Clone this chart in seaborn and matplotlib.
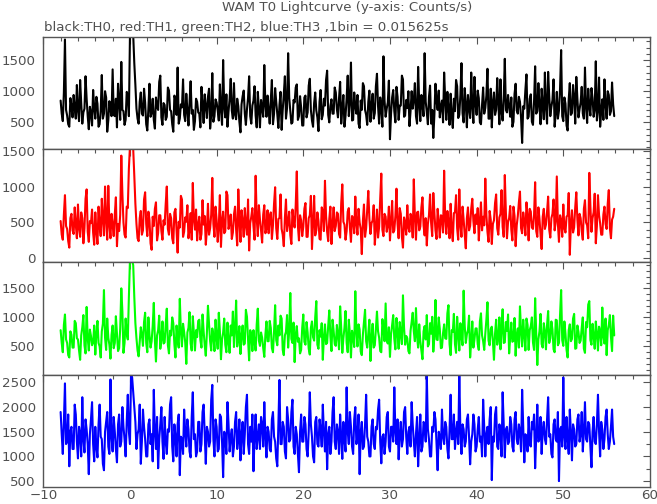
import numpy as np
import matplotlib
matplotlib.use("Agg")
import matplotlib.pyplot as plt
from matplotlib.ticker import MultipleLocator
import seaborn as sns

# ---------------- data (counts/s, coarse 0.125 s samples) -------------
t_start = -8.0
sample_dt = 0.125

th0 = [850, 640, 520, 980, 1830, 700, 610, 470, 430, 890, 760, 580, 940, 720, 560, 1100,
       690, 520, 1180, 810, 480, 660, 720, 1240, 880, 600, 390, 750, 650, 450, 1020, 730,
       560, 910, 800, 430, 470, 690, 1260, 560, 640, 1000, 900, 350, 530, 840, 710, 600,
       1350, 620, 600, 880, 420, 1120, 830, 540, 1470, 700, 680, 460, 540, 990, 940, 600,
       1900, 1870, 1880, 1900, 1450, 1100, 720, 560, 480, 830, 980, 640, 610, 1040, 820, 470,
       370, 720, 1120, 590, 650, 880, 540, 400, 900, 760, 700, 1150, 1250, 580, 460, 810,
       780, 540, 590, 1060, 1010, 700, 680, 470, 350, 930, 870, 620, 1380, 480, 560, 790,
       740, 1190, 620, 520, 960, 700, 450, 820, 1160, 640, 700, 380, 520, 880, 830, 660,
       640, 420, 1070, 800, 490, 950, 760, 570, 910, 1040, 400, 620, 1290, 510, 600, 870,
       820, 690, 530, 1110, 700, 460, 1500, 740, 580, 950, 430, 680, 880, 1200, 690, 560,
       1130, 620, 550, 880, 760, 510, 340, 790, 920, 1010, 640, 460, 710, 890, 1240, 600,
       480, 770, 850, 1080, 610, 420, 990, 720, 420, 860, 730, 590, 1420, 780, 590, 930,
       700, 480, 860, 1180, 470, 640, 1050, 830, 630, 410, 780, 990, 380, 700, 950, 1240,
       560, 730, 1610, 900, 680, 480, 500, 860, 820, 1060, 1110, 540, 600, 920, 740, 450,
       450, 900, 930, 580, 660, 1090, 1200, 700, 530, 430, 810, 980, 690, 580, 360, 830,
       1020, 550, 620, 880, 770, 1180, 1330, 620, 500, 760, 870, 640, 640, 1060, 980, 710,
       580, 890, 1150, 480, 720, 940, 430, 610, 890, 1250, 600, 820, 1460, 530, 540, 980,
       760, 640, 940, 480, 410, 850, 700, 1130, 1080, 700, 620, 460, 830, 1010, 510, 780,
       960, 560, 650, 1080, 1280, 760, 480, 900, 740, 430, 1560, 850, 590, 720, 820, 1170,
       230, 640, 900, 1020, 680, 500, 1070, 910, 540, 770, 770, 1250, 1190, 590, 610, 860,
       730, 1000, 440, 680, 1000, 720, 860, 1130, 600, 480, 1390, 790, 520, 940, 790, 600,
       1610, 830, 660, 470, 910, 1090, 480, 700, 250, 620, 1120, 840, 700, 1010, 580, 760,
       850, 500, 1300, 860, 540, 990, 720, 460, 960, 620, 410, 880, 680, 1180, 1080, 570,
       620, 940, 1450, 650, 500, 1050, 800, 420, 940, 730, 570, 1300, 760, 490, 1230, 800,
       620, 1010, 890, 500, 470, 780, 1060, 640, 730, 930, 1360, 560, 560, 1040, 420, 830,
       980, 620, 700, 1210, 820, 470, 1190, 660, 530, 880, 1520, 700, 660, 940, 770, 590,
       900, 430, 510, 960, 1120, 690, 640, 910, 830, 580, 170, 760, 720, 1020, 1270, 560,
       590, 880, 950, 510, 460, 830, 1400, 640, 680, 1130, 780, 470, 1040, 760, 550, 1300,
       740, 480, 1310, 920, 600, 750, 860, 1190, 430, 640, 990, 560, 690, 1040, 1660, 600,
       520, 900, 800, 450, 370, 870, 1130, 620, 650, 1100, 910, 480, 1230, 880, 580, 710,
       820, 1070, 640, 560, 1380, 750, 490, 1040, 760, 610, 1050, 890, 590, 700, 1480, 530,
       700, 1220, 430, 680, 870, 540, 1190, 790, 560, 1000, 940, 620, 680, 1140, 790, 600]

th1 = [520, 330, 260, 610, 880, 450, 410, 240, 150, 560, 620, 390, 340, 710, 470, 280,
       750, 420, 300, 640, 560, 210, 420, 830, 960, 370, 230, 520, 490, 680, 360, 190,
       640, 380, 200, 720, 450, 310, 830, 540, 320, 1000, 540, 260, 1010, 470, 280, 620,
       470, 310, 610, 850, 170, 480, 380, 610, 1430, 900, 500, 330, 290, 720, 700, 1250,
       1560, 1540, 1540, 1520, 1150, 760, 480, 280, 240, 560, 660, 330, 390, 820, 920, 480,
       310, 650, 540, 210, 120, 580, 450, 690, 780, 250, 350, 600, 600, 380, 260, 530,
       470, 760, 1000, 410, 330, 620, 560, 280, 210, 640, 690, 390, 80, 510, 430, 870,
       820, 300, 370, 570, 510, 740, 280, 410, 630, 260, 1050, 540, 400, 680, 250, 470,
       580, 260, 340, 810, 470, 590, 190, 400, 760, 330, 420, 610, 1120, 480, 300, 720,
       530, 230, 440, 880, 160, 520, 650, 350, 380, 930, 880, 410, 490, 610, 270, 360,
       610, 720, 400, 180, 960, 540, 230, 670, 520, 300, 700, 460, 330, 820, 110, 490,
       580, 700, 450, 260, 1150, 560, 310, 740, 540, 390, 220, 610, 740, 350, 420, 670,
       350, 580, 640, 270, 460, 760, 990, 420, 270, 550, 560, 890, 410, 330, 170, 560,
       820, 380, 500, 650, 320, 200, 680, 510, 430, 740, 1210, 460, 250, 600, 530, 310,
       440, 690, 770, 300, 300, 560, 600, 870, 130, 480, 870, 320, 390, 640, 520, 270,
       260, 710, 660, 380, 1080, 590, 370, 240, 550, 720, 200, 460, 710, 380, 450, 640,
       620, 340, 290, 770, 1030, 510, 470, 260, 380, 650, 700, 430, 230, 590, 560, 350,
       860, 480, 330, 690, 500, 410, 60, 520, 750, 300, 420, 680, 940, 550, 340, 490,
       530, 740, 190, 420, 680, 290, 440, 830, 1180, 400, 310, 620, 580, 370, 460, 720,
       250, 510, 800, 360, 390, 590, 970, 480, 280, 700, 620, 300, 150, 570, 500, 330,
       740, 430, 370, 620, 560, 290, 1100, 580, 260, 640, 650, 390, 440, 710, 850, 460,
       320, 560, 180, 480, 600, 890, 490, 310, 910, 640, 390, 270, 690, 510, 290, 600,
       590, 360, 1220, 540, 340, 660, 510, 280, 760, 410, 240, 630, 640, 880, 420, 260,
       960, 470, 300, 720, 540, 330, 140, 560, 710, 390, 450, 690, 830, 520, 350, 610,
       480, 700, 250, 520, 780, 390, 580, 460, 1110, 600, 370, 230, 660, 540, 200, 480,
       530, 770, 890, 420, 330, 570, 620, 950, 440, 300, 1160, 640, 280, 510, 560, 730,
       400, 250, 720, 590, 170, 460, 590, 780, 930, 420, 350, 640, 510, 320, 780, 600,
       250, 690, 650, 430, 410, 600, 1060, 380, 300, 710, 550, 330, 130, 580, 690, 410,
       470, 650, 860, 400, 290, 560, 620, 820, 390, 510, 1140, 480, 230, 600, 530, 300,
       750, 420, 360, 580, 600, 910, 50, 480, 670, 360, 430, 710, 920, 540, 320, 620,
       560, 380, 260, 690, 810, 500, 460, 280, 1190, 730, 370, 560, 640, 900, 210, 450,
       880, 600, 490, 330, 330, 610, 720, 480, 410, 760, 950, 420, 280, 540, 580, 690]

th2 = [780, 560, 400, 870, 1050, 620, 560, 350, 310, 760, 700, 480, 480, 940, 900, 640,
       620, 430, 270, 690, 830, 1040, 520, 380, 1180, 640, 430, 790, 680, 520, 570, 860,
       360, 720, 940, 560, 500, 310, 760, 890, 1470, 650, 440, 980, 650, 530, 290, 700,
       860, 470, 560, 1020, 720, 420, 470, 810, 1500, 1100, 390, 560, 980, 720, 620, 1350,
       1990, 1960, 1980, 1900, 1350, 900, 640, 430, 330, 580, 830, 700, 510, 920, 1080, 560,
       400, 1000, 700, 480, 590, 860, 1250, 610, 240, 690, 780, 1030, 460, 620, 930, 550,
       570, 880, 1150, 520, 380, 770, 690, 1000, 900, 540, 310, 860, 620, 480, 1320, 760,
       500, 890, 750, 570, 200, 740, 820, 1090, 550, 430, 1020, 730, 430, 780, 660, 940,
       960, 610, 480, 1050, 760, 520, 340, 730, 1200, 880, 590, 430, 810, 690, 420, 960,
       640, 460, 1080, 760, 280, 620, 740, 980, 530, 400, 910, 580, 390, 860, 690, 1100,
       490, 800, 1290, 500, 630, 850, 370, 690, 860, 530, 550, 1130, 1010, 620, 260, 780,
       710, 420, 780, 560, 430, 880, 1150, 600, 510, 740, 650, 470, 320, 700, 930, 590,
       590, 940, 820, 470, 400, 760, 1210, 610, 520, 860, 690, 1030, 980, 440, 350, 690,
       750, 1040, 480, 780, 1420, 630, 560, 910, 230, 700, 850, 580, 640, 380, 440, 820,
       1050, 580, 530, 920, 740, 460, 360, 820, 930, 660, 600, 1000, 1280, 530, 460, 780,
       670, 900, 270, 650, 880, 540, 560, 860, 1120, 680, 420, 960, 770, 540, 510, 870,
       690, 450, 1190, 820, 390, 640, 820, 1110, 560, 400, 960, 720, 310, 770, 660, 490,
       1450, 760, 500, 880, 790, 410, 350, 700, 920, 1130, 590, 480, 720, 960, 250, 640,
       890, 480, 520, 800, 1100, 760, 650, 420, 400, 970, 800, 590, 1240, 600, 550, 830,
       320, 710, 870, 1040, 630, 450, 990, 760, 460, 920, 700, 540, 1380, 820, 530, 680,
       640, 420, 380, 770, 920, 1080, 760, 590, 1160, 670, 480, 880, 590, 430, 280, 760,
       850, 620, 1040, 500, 540, 900, 720, 1010, 410, 680, 1300, 620, 610, 1000, 800, 470,
       480, 730, 880, 640, 630, 1070, 1210, 540, 350, 780, 750, 1060, 540, 390, 1010, 720,
       430, 900, 670, 520, 1460, 860, 560, 710, 780, 1030, 310, 590, 930, 480, 620, 810,
       810, 540, 440, 930, 1070, 690, 590, 440, 720, 960, 1260, 600, 520, 800, 840, 590,
       270, 720, 960, 530, 640, 1000, 450, 800, 1140, 560, 570, 920, 770, 1050, 380, 660,
       910, 580, 600, 990, 340, 700, 810, 480, 1190, 760, 500, 960, 700, 430, 980, 870,
       440, 780, 850, 1000, 570, 440, 1330, 720, 180, 620, 760, 1060, 540, 480, 900, 760,
       450, 870, 1110, 560, 640, 930, 790, 450, 400, 960, 950, 520, 560, 1040, 1470, 610,
       510, 930, 720, 440, 310, 780, 880, 590, 630, 980, 1060, 460, 470, 860, 750, 560,
       600, 820, 1000, 460, 390, 920, 830, 1220, 1280, 610, 530, 890, 680, 460, 930, 730,
       430, 840, 760, 520, 1170, 670, 550, 980, 350, 780, 870, 1040, 660, 420, 1030, 690]

th3 = [1900, 1450, 1050, 1700, 2480, 1250, 1300, 1850, 800, 1500, 1600, 1150, 1150, 2050, 1850, 1300,
       960, 1600, 1450, 1000, 2200, 1350, 1080, 1750, 1550, 1250, 640, 1450, 1750, 2100, 1250, 900,
       1600, 1200, 980, 1650, 2050, 1400, 1350, 850, 720, 1500, 1700, 1900, 1200, 1050, 2560, 1400,
       1100, 1800, 1500, 1150, 880, 1650, 1850, 1200, 1300, 2000, 1600, 1350, 1000, 1700, 2250, 1500,
       1250, 2660, 2600, 2300, 2000, 1700, 1150, 1450, 1550, 2050, 850, 1300, 1950, 1600, 1350, 1000,
       1000, 1650, 1750, 1250, 1450, 900, 2350, 1500, 1150, 1800, 760, 1350, 1650, 2000, 1300, 950,
       1800, 1300, 1050, 1550, 1500, 2050, 2200, 1200, 900, 1650, 1400, 1000, 1650, 1850, 620, 1400,
       1350, 1050, 1950, 1500, 1200, 1750, 1550, 1100, 980, 1800, 2300, 1350, 1450, 1000, 1100, 1700,
       1700, 1100, 1250, 1900, 2050, 1450, 850, 1600, 1500, 1200, 1300, 2150, 2450, 1350, 1000, 1750,
       1600, 1100, 1150, 1850, 1800, 1300, 580, 1500, 1400, 1050, 2100, 1650, 1100, 1400, 1550, 1000,
       1200, 1700, 1900, 1150, 1350, 1750, 920, 1450, 1700, 1050, 1450, 2000, 2250, 1250, 1050, 1600,
       1300, 1850, 700, 1400, 1850, 1150, 1400, 1650, 1150, 1800, 1650, 1200, 2100, 1400, 980, 1600,
       1500, 1150, 1100, 1750, 1900, 1400, 1300, 960, 800, 1650, 2550, 1250, 1250, 1700, 1600, 1100,
       960, 2000, 1750, 1300, 1350, 1900, 2150, 1200, 1050, 1600, 1450, 1050, 680, 1500, 1850, 1300,
       1300, 1800, 1650, 1150, 1000, 1500, 2300, 1650, 1400, 1000, 880, 1700, 1800, 1250, 1200, 1750,
       1550, 1200, 2050, 1500, 1100, 1700, 740, 1450, 1600, 1050, 1300, 1900, 2200, 1300, 1150, 1650,
       1500, 1050, 1850, 1400, 950, 1700, 1350, 1100, 2400, 1500, 1250, 1900, 1600, 1200, 1050, 1750,
       2000, 1250, 1400, 1850, 640, 1500, 1700, 1150, 1200, 1650, 2250, 1400, 1300, 1000, 1000, 1600,
       1750, 1250, 1150, 1600, 1550, 1950, 2150, 1300, 860, 1400, 1450, 1050, 1300, 1800, 1900, 1200,
       1100, 1600, 1600, 1300, 2400, 1500, 1250, 1750, 940, 1450, 1700, 1200, 1350, 1900, 2000, 1400,
       1050, 1500, 1600, 1200, 2100, 1650, 1300, 1000, 1450, 1800, 800, 1350, 1850, 1100, 1200, 1700,
       1650, 1300, 2650, 1550, 1350, 1000, 1000, 1600, 1500, 1900, 1750, 1250, 720, 1500, 1400, 1150,
       1950, 1400, 1250, 1700, 1600, 1150, 960, 1550, 2250, 1350, 1350, 1850, 1150, 1500, 1700, 1250,
       2660, 1500, 1050, 1650, 1550, 1200, 1300, 1750, 1850, 1400, 840, 1300, 1450, 1850, 1650, 1100,
       1200, 1550, 1800, 1300, 1400, 1000, 2150, 1600, 1000, 1450, 1600, 1250, 1750, 2000, 520, 1400,
       1300, 1850, 2000, 1200, 1150, 1650, 1500, 1000, 2300, 1650, 980, 1550, 1600, 1250, 1300, 1800,
       1650, 1200, 1100, 1750, 1900, 1350, 1250, 1650, 1500, 1100, 2350, 1600, 880, 1450, 1400, 1100,
       1800, 1250, 1200, 1700, 1550, 1850, 760, 1400, 2050, 1300, 1350, 1800, 1050, 1550, 1700, 1350,
       1250, 1750, 2200, 1400, 1450, 1050, 980, 1650, 1750, 1350, 1300, 1900, 500, 1550, 1600, 1200,
       2600, 1400, 1150, 1800, 1350, 1050, 1950, 1500, 920, 1650, 1550, 1200, 1250, 1750, 1850, 1300,
       1450, 1900, 1100, 1500, 2100, 1350, 1300, 1700, 1650, 1200, 780, 1500, 1800, 1300, 1250, 1650,
       2250, 1500, 1000, 1700, 1550, 1150, 1350, 1800, 1950, 1450, 1150, 1300, 1600, 1950, 1400, 1250]

series = [th0, th1, th2, th3]
colors = ["#000000", "#ff0000", "#00ff00", "#0000ff"]
ylims = [(65, 1870), (-50, 1515), (17, 1953), (380, 2660)]
y_minor = [100, 100, 100, 250]

title_line1 = "WAM T0 Lightcurve (y-axis: Counts/s)"
title_line2 = "black:TH0, red:TH1, green:TH2, blue:TH3 ,1bin = 0.015625s"

# ---------------- figure ----------------
sns.set_style("white")
plt.rcParams["font.family"] = ["DejaVu Sans"]
plt.rcParams["axes.unicode_minus"] = True
plt.rcParams["path.simplify"] = False

frame_col = "#555555"
text_col = "#505050"

fig, axes = plt.subplots(4, 1, sharex=True, figsize=(6.57, 5.04), dpi=100,
                         gridspec_kw=dict(hspace=0))
fig.subplots_adjust(left=0.0659, right=0.9893, top=0.9266, bottom=0.0337)

for ax, vals, col, yl, ymn in zip(axes, series, colors, ylims, y_minor):
    t = t_start + sample_dt * np.arange(len(vals))
    sns.lineplot(x=t, y=vals, ax=ax, color=col, linewidth=1.5,
                 estimator=None, sort=False, legend=False)
    ax.set_xlim(-10, 60)
    ax.set_ylim(*yl)
    ax.xaxis.set_major_locator(MultipleLocator(10))
    ax.xaxis.set_minor_locator(MultipleLocator(2))
    ax.yaxis.set_major_locator(MultipleLocator(500))
    ax.yaxis.set_minor_locator(MultipleLocator(ymn))
    ax.tick_params(which="both", direction="in", top=True, right=True,
                   colors=frame_col, labelcolor=text_col, labelsize=9.6, width=0.8)
    ax.tick_params(which="major", length=5, pad=5.5)
    ax.tick_params(which="minor", length=2.8)
    ax.set_xlabel("")
    ax.set_ylabel("")
    for s in ax.spines.values():
        s.set_color(frame_col)
        s.set_linewidth(1.0)

axes[-1].tick_params(axis="x", pad=1.5)

fig.text(0.528, 1 - 8.0 / 504, title_line1, ha="center", va="center",
         fontsize=9.6, color=text_col)
fig.text(43.5 / 657, 1 - 27.0 / 504, title_line2, ha="left", va="center",
         fontsize=9.6, color=text_col)

fig.savefig("out.png", dpi=100)
